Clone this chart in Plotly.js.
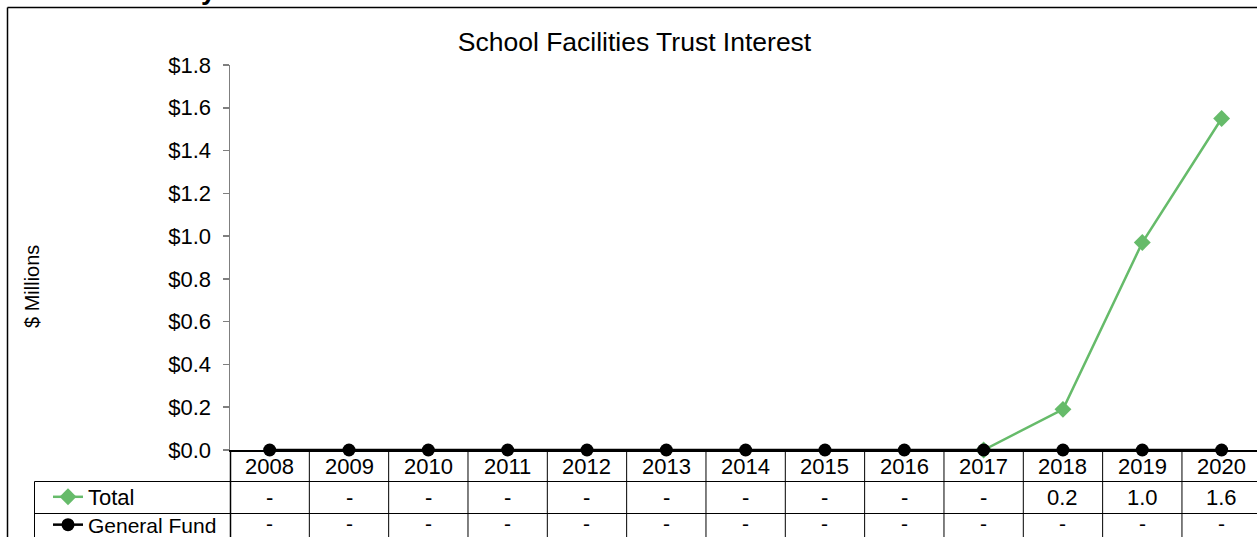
<!DOCTYPE html>
<html>
<head>
<meta charset="utf-8">
<script src="https://cdn.plot.ly/plotly-3.0.1.min.js"></script>
<style>
  html, body { margin: 0; padding: 0; background: #fff; overflow: hidden; }
  #chart { width: 1257px; height: 537px; }
</style>
</head>
<body>
<div id="chart"></div>
<script>
// ---- Data ----
const years = ['2008','2009','2010','2011','2012','2013','2014','2015','2016','2017','2018','2019','2020'];
const totalValues = [null, null, null, null, null, null, null, null, null, 0, 0.19, 0.97, 1.55];
const generalFundValues = [0, 0, 0, 0, 0, 0, 0, 0, 0, 0, 0, 0, 0];
const seriesNames = ['Total', 'General Fund'];
const chartTitle = 'School Facilities Trust Interest';
const yAxisTitle = '$ Millions';
const pageHeading = 'Revenue History';

// ---- Layout helpers (pixel -> paper / container) ----
const W = 1257, H = 537;
const L = 230, T = 65, B = 450, R = 1257;
const PW = R - L, PH = B - T;
const px = x => (x - L) / PW;
const py = y => (B - y) / PH;
const cx = x => x / W;
const cy = y => 1 - y / H;
const catW = 79.33;
const FONT = 'Liberation Sans, Arial, sans-serif';
const GREEN = '#66BB6A';

function cellText(v) {
  return (v === null || v === 0) ? '-' : v.toFixed(1);
}

const traces = [
  {
    x: years, y: totalValues, name: seriesNames[0], type: 'scatter', mode: 'lines+markers',
    line: { color: GREEN, width: 2.5 },
    marker: { symbol: 'diamond', size: 13, color: GREEN },
    connectgaps: false, cliponaxis: false, legend: 'legend', hoverinfo: 'x+y'
  },
  {
    x: years, y: generalFundValues, name: seriesNames[1], type: 'scatter', mode: 'lines+markers',
    line: { color: '#000000', width: 2.5 },
    marker: { symbol: 'circle', size: 13, color: '#000000' },
    cliponaxis: false, legend: 'legend2', hoverinfo: 'x+y'
  }
];

const annotations = [];
years.forEach((yr, i) => {
  annotations.push({ x: i, xref: 'x', y: py(466), yref: 'paper', text: yr, showarrow: false,
    xanchor: 'center', yanchor: 'middle', font: { family: FONT, size: 22, color: '#000' } });
  annotations.push({ x: i, xref: 'x', y: py(497), yref: 'paper', text: cellText(totalValues[i]), showarrow: false,
    xanchor: 'center', yanchor: 'middle', font: { family: FONT, size: 22, color: '#000' } });
  annotations.push({ x: i, xref: 'x', y: py(536), yref: 'paper', text: cellText(generalFundValues[i]), showarrow: false,
    xanchor: 'center', yanchor: 'bottom', borderpad: 0, font: { family: FONT, size: 21, color: '#000' } });
});
annotations.push({ x: px(32), y: py(287), xref: 'paper', yref: 'paper', text: yAxisTitle, textangle: -90,
  showarrow: false, xanchor: 'center', yanchor: 'middle', font: { family: FONT, size: 20, color: '#000' } });
annotations.push({ x: px(218), y: py(7.5), xref: 'paper', yref: 'paper', text: '<b>' + pageHeading + '</b>',
  showarrow: false, xanchor: 'right', yanchor: 'bottom', font: { family: FONT, size: 27, color: '#000' } });

const lineStyle = { color: '#000000', width: 1 };
const shapes = [
  // chart border
  { type: 'line', xref: 'paper', yref: 'paper', x0: px(7.5), x1: px(7.5), y0: py(7.5), y1: py(560), line: { color: '#000', width: 1.5 } },
  { type: 'line', xref: 'paper', yref: 'paper', x0: px(7.5), x1: px(1270), y0: py(7.5), y1: py(7.5), line: { color: '#000', width: 1.5 } },
  // table horizontal lines
  { type: 'line', xref: 'paper', yref: 'paper', x0: px(34.5), x1: px(1270), y0: py(481.5), y1: py(481.5), line: lineStyle },
  { type: 'line', xref: 'paper', yref: 'paper', x0: px(34.5), x1: px(1270), y0: py(513.5), y1: py(513.5), line: lineStyle },
  // table left edge
  { type: 'line', xref: 'paper', yref: 'paper', x0: px(34.5), x1: px(34.5), y0: py(481.5), y1: py(560), line: lineStyle },
  // table line under the axis
  { type: 'line', xref: 'paper', yref: 'paper', x0: px(230.5), x1: px(230.5), y0: py(450), y1: py(560), line: { color: '#000', width: 1.5 } }
];
years.forEach((yr, i) => {
  shapes.push({ type: 'line', xref: 'x', yref: 'paper', x0: i + 0.5, x1: i + 0.5, y0: py(450), y1: py(560), line: lineStyle });
});

const legendBase = { xref: 'container', yref: 'container', xanchor: 'left', yanchor: 'middle',
  bgcolor: 'rgba(0,0,0,0)', borderwidth: 0, font: { family: FONT, size: 22, color: '#000' },
  itemclick: false, itemdoubleclick: false };

const layout = {
  width: W, height: H,
  margin: { l: L, r: W - R, t: T, b: H - B, pad: 0, autoexpand: false },
  paper_bgcolor: '#ffffff', plot_bgcolor: '#ffffff',
  font: { family: FONT, color: '#000' },
  title: { text: chartTitle, x: 634.5 / W, xanchor: 'center', xref: 'container',
    y: 1 - 42 / H, yanchor: 'middle', yref: 'container', font: { family: FONT, size: 26.5, color: '#000' } },
  xaxis: {
    type: 'category', range: [-0.5, -0.5 + PW / catW], showline: true, linecolor: '#000', linewidth: 1.5,
    showticklabels: false, ticks: '', showgrid: false, zeroline: false, fixedrange: true
  },
  yaxis: {
    range: [0, 1.8], dtick: 0.2, tick0: 0, tickprefix: '$', tickformat: '.1f',
    showline: true, linecolor: '#7f7f7f', linewidth: 1.5, ticks: 'outside', ticklen: 6, tickcolor: '#7f7f7f',
    tickwidth: 1.5, ticklabelstandoff: 7, showgrid: false, zeroline: false, fixedrange: true,
    tickfont: { family: FONT, size: 22, color: '#000' }
  },
  showlegend: true,
  legend: Object.assign({}, legendBase, { x: cx(48), y: cy(497) }),
  legend2: Object.assign({}, legendBase, { x: cx(48), y: cy(525), font: { family: FONT, size: 21, color: '#000' } }),
  annotations: annotations,
  shapes: shapes
};

Plotly.newPlot('chart', traces, layout, { displayModeBar: false, staticPlot: true });
</script>
</body>
</html>
